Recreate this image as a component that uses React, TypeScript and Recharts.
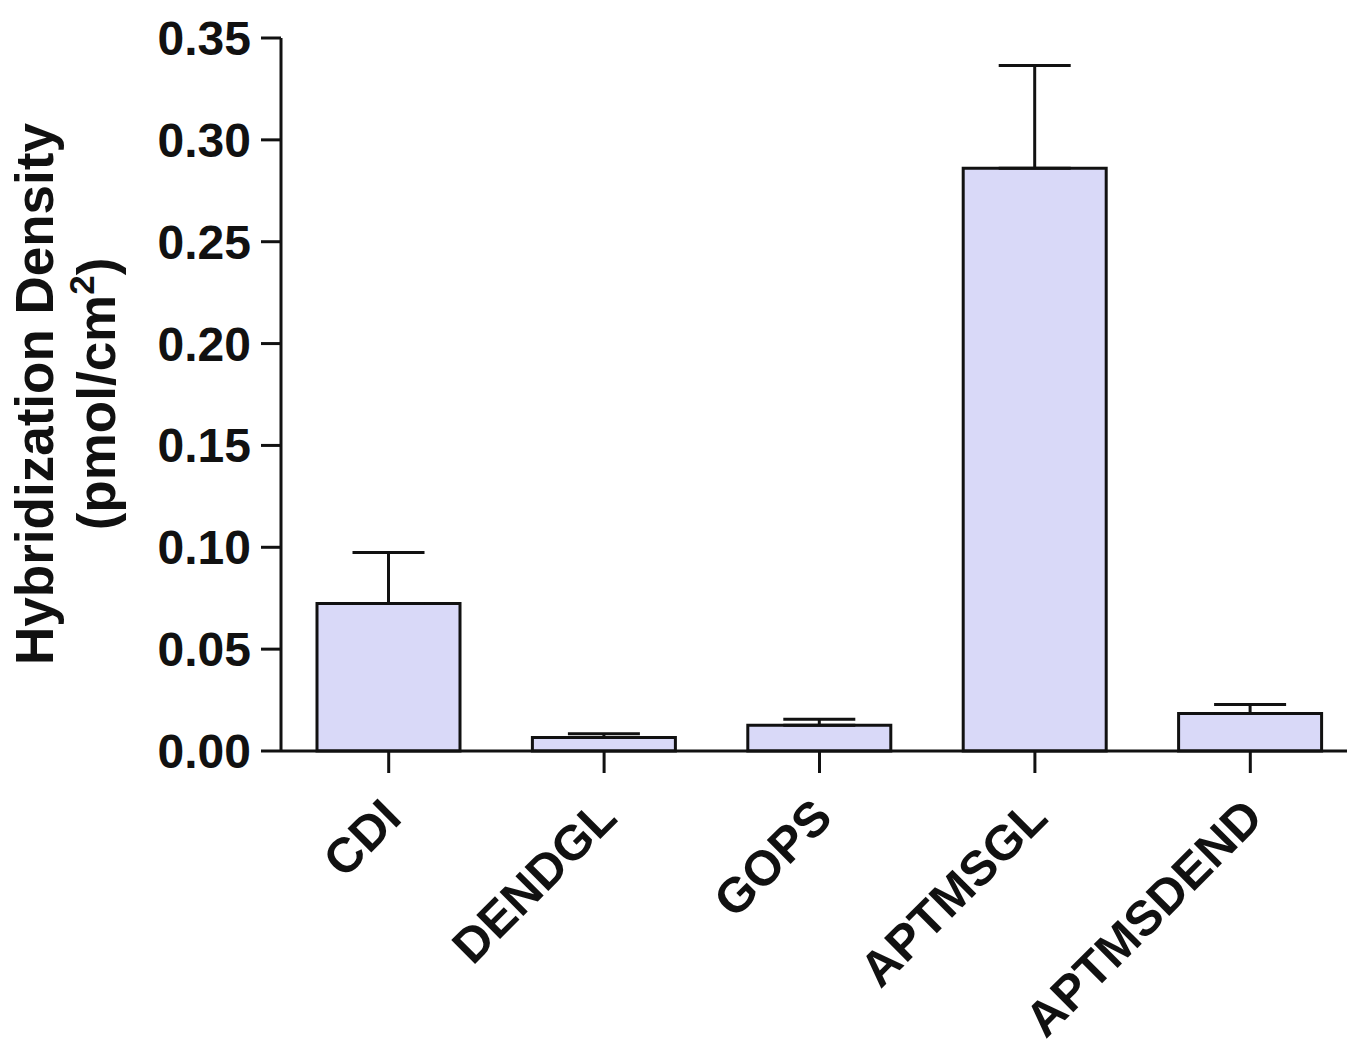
import React from "react";
import { BarChart, Bar, XAxis, YAxis, ErrorBar } from "recharts";

// Hybridization density by surface chemistry (mean + upper error bar)
const categories = ["CDI", "DENDGL", "GOPS", "APTMSGL", "APTMSDEND"];
const means = [0.0724, 0.0066, 0.0126, 0.2861, 0.0184];
const errors = [0.0251, 0.0019, 0.003, 0.0504, 0.0044];
const yTicks = [0, 0.05, 0.1, 0.15, 0.2, 0.25, 0.3, 0.35];

const data = categories.map((name, i) => ({
  name,
  value: means[i],
  err: [0, errors[i]],
}));

const FONT = "'Liberation Sans', Arial, Helvetica, sans-serif";
const INK = "#111111";

function XTick(props: any) {
  const { x, y, payload } = props;
  return (
    <g transform={`translate(${x + 15},${y + 47})`}>
      <text
        transform="rotate(-45)"
        textAnchor="end"
        fontFamily={FONT}
        fontSize={49}
        fontWeight="bold"
        fill={INK}
      >
        {payload.value}
      </text>
    </g>
  );
}

const renderYLabel = () => (
  <text
    transform="translate(53, 394) rotate(-90)"
    textAnchor="middle"
    fontFamily={FONT}
    fontSize={53}
    fontWeight="bold"
    fill={INK}
  >
    <tspan x={0} y={0}>Hybridization Density</tspan>
    <tspan x={0} y={62}>
      (pmol/cm
      <tspan dy={-21} fontSize={35}>2</tspan>
      <tspan dy={21}>)</tspan>
    </tspan>
  </text>
);

export default function App() {
  return (
    <div style={{ position: "absolute", left: 0, top: 0, width: 1347, height: 1048, overflow: "hidden", background: "#fff" }}>
      <BarChart width={1358} height={1048} data={data} margin={{ top: 38, right: 0, bottom: 0, left: 0 }}>
        <XAxis
          dataKey="name"
          height={297}
          interval={0}
          tickSize={22}
          tickMargin={0}
          axisLine={{ stroke: INK, strokeWidth: 3 }}
          tickLine={{ stroke: INK, strokeWidth: 3 }}
          tick={<XTick />}
        />
        <YAxis
          width={281}
          domain={[0, 0.35]}
          ticks={yTicks}
          interval={0}
          tickSize={20}
          tickMargin={10}
          tickFormatter={(v: number) => v.toFixed(2)}
          axisLine={{ stroke: INK, strokeWidth: 3 }}
          tickLine={{ stroke: INK, strokeWidth: 3 }}
          tick={{ fontFamily: FONT, fontSize: 48, fontWeight: "bold", fill: INK }}
          label={{ content: renderYLabel }}
        />
        <Bar dataKey="value" fill="#D9D9F8" stroke={INK} strokeWidth={3} barSize={143} isAnimationActive={false}>
          <ErrorBar dataKey="err" direction="y" width={36} stroke={INK} strokeWidth={3} isAnimationActive={false} />
        </Bar>
      </BarChart>
    </div>
  );
}
